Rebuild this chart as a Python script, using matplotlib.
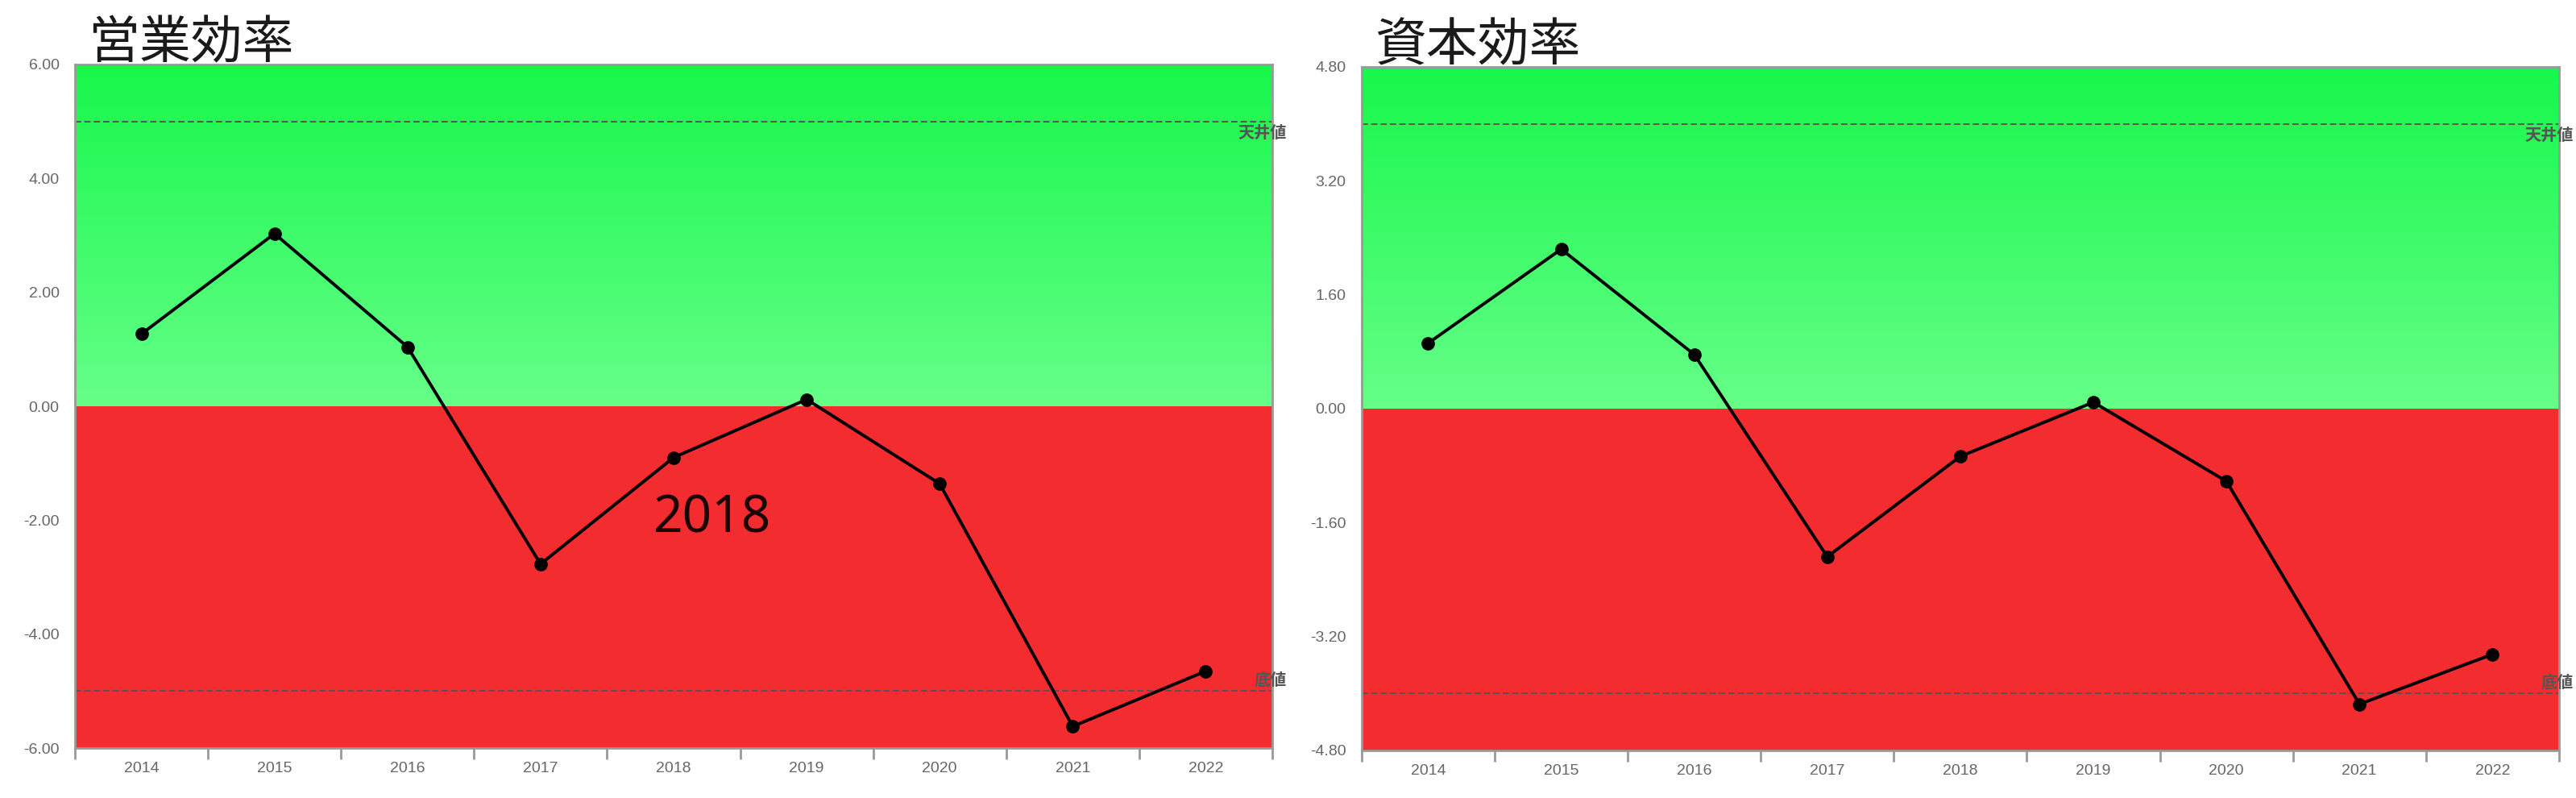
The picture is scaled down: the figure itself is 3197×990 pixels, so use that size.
import matplotlib

matplotlib.use("Agg")
import matplotlib.pyplot as plt
import numpy as np
from matplotlib.colors import LinearSegmentedColormap

plt.rcParams["font.family"] = ["Liberation Sans", "Noto Sans CJK JP", "DejaVu Sans"]

years = ["2014", "2015", "2016", "2017", "2018", "2019", "2020", "2021", "2022"]

operating_title = "営業効率"
operating_values = [1.27, 3.03, 1.04, -2.77, -0.90, 0.12, -1.36, -5.62, -4.65]
operating_ticks = [6.0, 4.0, 2.0, 0.0, -2.0, -4.0, -6.0]
operating_ceiling = 5.0
operating_floor = -5.0

capital_title = "資本効率"
capital_values = [0.92, 2.24, 0.76, -2.08, -0.67, 0.09, -1.02, -4.15, -3.45]
capital_ticks = [4.8, 3.2, 1.6, 0.0, -1.6, -3.2, -4.8]
capital_ceiling = 4.0
capital_floor = -4.0

highlight_label = "2018"

GREEN_CMAP = LinearSegmentedColormap.from_list("band", ["#66FF88", "#17F74B"])
RED = "#F22C2F"
FRAME = "#999999"
TEXT_GREY = "#666666"
CJK = ["Noto Sans CJK JP", "DejaVu Sans"]


def draw_panel(fig, rect, title, values, ticks, ceiling, floor, note=None):
    ax = fig.add_axes(rect)
    top, bottom = max(ticks), min(ticks)
    n = len(years)
    x = np.arange(n)
    ax.set_xlim(-0.5, n - 0.5)
    ax.set_ylim(bottom, top)

    gradient = np.linspace(0, 1, 256).reshape(-1, 1)
    ax.imshow(
        gradient,
        cmap=GREEN_CMAP,
        origin="lower",
        aspect="auto",
        extent=(-0.5, n - 0.5, 0, top),
        zorder=0,
    )
    ax.axhspan(bottom, 0, color=RED, zorder=0, lw=0)

    for level in (ceiling, floor):
        ax.axhline(level, color="#555555", lw=1.4, ls=(0, (4, 2)), zorder=1)
    ax.annotate(
        "天井値", xy=(1, ceiling), xycoords=("axes fraction", "data"),
        xytext=(18, -3), textcoords="offset pixels", ha="right", va="top",
        fontsize=14.5, color="#555555", family=CJK, fontweight="bold",
        annotation_clip=False,
    )
    ax.annotate(
        "底値", xy=(1, floor), xycoords=("axes fraction", "data"),
        xytext=(18, 4), textcoords="offset pixels", ha="right", va="bottom",
        fontsize=14.5, color="#555555", family=CJK, fontweight="bold",
        annotation_clip=False,
    )

    ax.plot(x, values, color="black", lw=2.8, marker="o", ms=11, zorder=3)

    ax.set_yticks(ticks)
    ax.set_yticklabels([f"{t:.2f}" for t in ticks])
    ax.tick_params(axis="y", length=0, pad=14, labelsize=14, labelcolor=TEXT_GREY)

    ax.set_xticks(np.arange(-0.5, n, 1.0))
    ax.set_xticklabels([])
    ax.set_xticks(x, minor=True)
    ax.set_xticklabels(years, minor=True)
    ax.tick_params(axis="x", which="major", length=10, width=2, color=FRAME)
    ax.tick_params(axis="x", which="minor", length=0, pad=12, labelsize=14,
                   labelcolor=TEXT_GREY)

    for spine in ax.spines.values():
        spine.set_color(FRAME)
        spine.set_linewidth(2)

    ax.text(0.011, 1.03, title, transform=ax.transAxes, fontsize=46,
            family=CJK, color="#1a1a1a", ha="left", va="center", zorder=5)

    if note is not None:
        ax.text(note[0], note[1], note[2], fontsize=46,
                family=["Noto Sans", "DejaVu Sans"],
                color="#1a0505", ha="center", va="center", zorder=4)
    return ax


fig = plt.figure(figsize=(31.97, 9.9), dpi=100)
draw_panel(fig, [0.0291, 0.0626, 0.4648, 0.8566], operating_title,
           operating_values, operating_ticks, operating_ceiling,
           operating_floor, note=(4.29, -1.97, highlight_label))
draw_panel(fig, [0.5286, 0.0596, 0.4648, 0.8566], capital_title,
           capital_values, capital_ticks, capital_ceiling, capital_floor)
fig.savefig("out.png", dpi=100, facecolor="white")
